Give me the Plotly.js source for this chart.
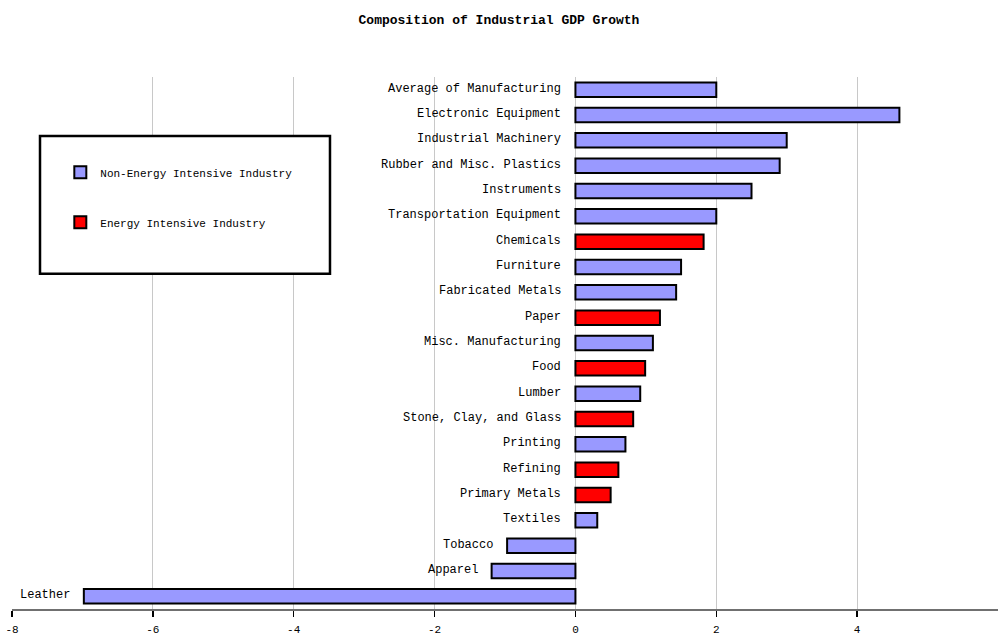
<!DOCTYPE html>
<html>
<head>
<meta charset="utf-8">
<script src="https://cdn.plot.ly/plotly-3.0.1.min.js"></script>
<style>html,body{margin:0;padding:0;background:#fff;}#chart{width:998px;height:638px;}</style>
</head>
<body>
<div id="chart"></div>
<script>
const categories = [
  "Average of Manufacturing", "Electronic Equipment", "Industrial Machinery",
  "Rubber and Misc. Plastics", "Instruments", "Transportation Equipment",
  "Chemicals", "Furniture", "Fabricated Metals", "Paper",
  "Misc. Manufacturing", "Food", "Lumber", "Stone, Clay, and Glass",
  "Printing", "Refining", "Primary Metals", "Textiles", "Tobacco",
  "Apparel", "Leather"
];
const growth = [2.0, 4.6, 3.0, 2.9, 2.5, 2.0, 1.82, 1.5, 1.43, 1.2, 1.1, 0.99, 0.92, 0.82, 0.71, 0.61, 0.5, 0.31, -0.97, -1.19, -6.98];
const energyIntensive = [false, false, false, false, false, false, true, false, false, true, false, true, false, true, false, true, true, false, false, false, false];
const seriesNames = ["Non-Energy Intensive Industry", "Energy Intensive Industry"];
const seriesColors = ["#9999FF", "#FF0000"];
const xTicks = [-8, -6, -4, -2, 0, 2, 4];

const FONT = "'Liberation Mono', 'Courier New', monospace";

function pick(flag) {
  const ys = [], xs = [];
  categories.forEach((c, i) => { if (energyIntensive[i] === flag) { ys.push(c); xs.push(growth[i]); } });
  return {ys, xs};
}
const nonE = pick(false), en = pick(true);

const traces = [
  {type: 'bar', orientation: 'h', name: seriesNames[0], y: nonE.ys, x: nonE.xs,
   marker: {color: seriesColors[0], line: {color: '#000', width: 2}}, width: 0.57,
   legendgroup: 'a', hoverinfo: 'x+y'},
  {type: 'bar', orientation: 'h', name: seriesNames[1], y: en.ys, x: en.xs,
   marker: {color: seriesColors[1], line: {color: '#000', width: 2}}, width: 0.57,
   legendgroup: 'b', hoverinfo: 'x+y'}
];

const annotations = categories.map((c, i) => ({
  x: Math.min(0, growth[i]), y: c, xref: 'x', yref: 'y',
  text: c, showarrow: false, xanchor: 'right', yanchor: 'middle', xshift: -12, yshift: 1,
  font: {family: FONT, size: 12, color: '#000'}
}));

const layout = {
  width: 998, height: 638,
  margin: {l: 12, r: 0, t: 77, b: 29, pad: 0},
  paper_bgcolor: '#fff', plot_bgcolor: '#fff',
  title: {text: 'Composition of Industrial GDP Growth', x: 0.5, xanchor: 'center', y: 0.97, yanchor: 'middle',
          font: {family: FONT, size: 13, color: '#000', weight: 'bold'}},
  barmode: 'overlay',
  xaxis: {range: [-8, 6], tickvals: xTicks, ticktext: xTicks.map(String),
          showgrid: true, gridcolor: '#c8c8c8', gridwidth: 1,
          zeroline: true, zerolinecolor: '#c8c8c8', zerolinewidth: 1,
          showline: true, linecolor: '#707070', linewidth: 2,
          ticks: 'outside', ticklen: 6, tickcolor: '#000', tickwidth: 1.5,
          ticklabelstandoff: 3,
          tickfont: {family: FONT, size: 11, color: '#000'}, fixedrange: true},
  yaxis: {type: 'category', categoryorder: 'array', categoryarray: categories,
          autorange: 'reversed', showticklabels: false, showgrid: false,
          zeroline: false, showline: false, ticks: '', fixedrange: true},
  showlegend: true,
  legend: {x: 0.049, y: 0.848, xanchor: 'left', yanchor: 'top', xref: 'paper', yref: 'paper',
           bgcolor: 'rgba(0,0,0,0)', borderwidth: 0, traceorder: 'grouped', tracegroupgap: 31,
           font: {family: FONT, size: 11, color: '#000'}},
  shapes: [{type: 'rect', xref: 'paper', yref: 'paper', x0: 0.0284, x1: 0.3225, y0: 0.63, y1: 0.889,
            fillcolor: '#fff', line: {color: '#000', width: 2.5}, layer: 'above'}],
  annotations: annotations
};

Plotly.newPlot('chart', traces, layout, {displayModeBar: false, staticPlot: true});
</script>
</body>
</html>
